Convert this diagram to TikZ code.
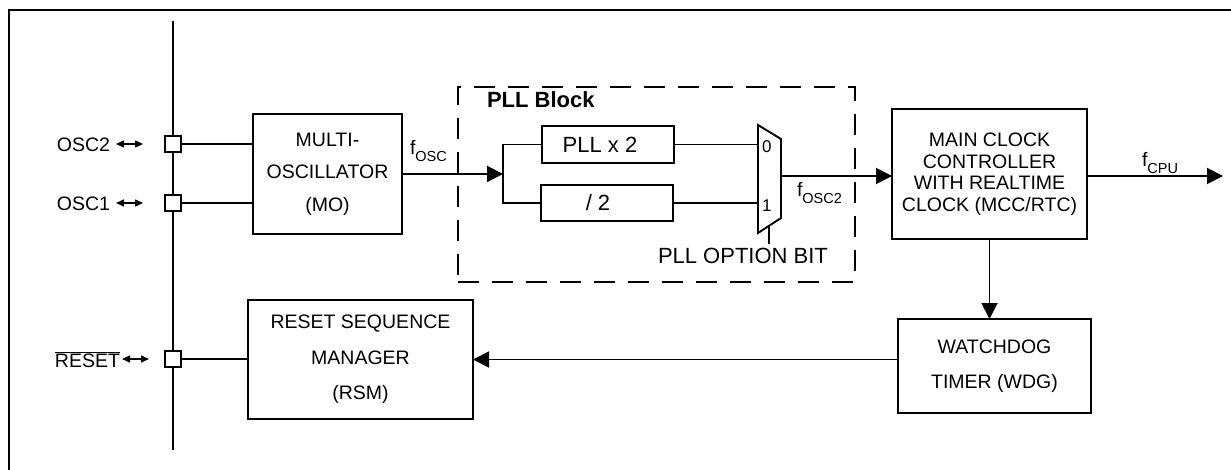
\documentclass[tikz,border=0pt]{standalone}
\usepackage{fontspec}
\setmainfont{Liberation Sans}
\usetikzlibrary{arrows.meta}
\newcommand{\subtxt}[1]{\raisebox{-0.32em}{\fontsize{14.5}{15}\selectfont #1}}
\begin{document}
\begin{tikzpicture}[x=1pt,y=-1pt,
  every node/.style={inner sep=0pt, outer sep=0pt},
  txt/.style={font=\fontsize{19.5}{21}\selectfont},
  box/.style={draw, line width=2pt, align=center},
  pin/.style={draw, fill=white, line width=1.8pt, minimum width=16pt, minimum height=16pt},
  wire/.style={line width=1.9pt},
  arr/.style={line width=1.9pt, -{Triangle[length=16pt,width=16pt]}},
  dbl/.style={line width=1.5pt, {Triangle[length=8pt,width=7pt]}-{Triangle[length=8pt,width=7pt]}},
  dashbox/.style={draw, line width=2pt, dash pattern=on 21pt off 13pt}
]
\useasboundingbox (0,0) rectangle (1231,470);
% frame
\draw[line width=2.2pt] (9,475) -- (9,10) -- (1236,10);

% bus
\coordinate (bt) at (173,21);
\coordinate (bb) at (173,450);
\draw[wire] (bt) -- (bb);

% boxes
\node[box, txt, font=\fontsize{19.5}{32.5}\selectfont, minimum width=149pt, minimum height=120pt] (MO) at (327.5,174) {MULTI-\\OSCILLATOR\\(MO)};
\node[box, txt, font=\fontsize{19.5}{35.5}\selectfont, minimum width=225pt, minimum height=119pt] (RSM) at (360.5,359.5) {RESET SEQUENCE\\MANAGER\\(RSM)};
\node[box, txt, font=\fontsize{19.5}{21.5}\selectfont, minimum width=195pt, minimum height=130pt] (MCC) at (989.5,174) {MAIN CLOCK\\CONTROLLER\\WITH REALTIME\\CLOCK (MCC/RTC)};
\node[box, txt, font=\fontsize{19.5}{35}\selectfont, minimum width=193pt, minimum height=94pt] (WDG) at (994.5,366) {WATCHDOG\\TIMER (WDG)};

% PLL block
\node[dashbox, minimum width=397pt, minimum height=195pt] (PLLB) at (656.5,184.5) {};
\node[anchor=base west, font=\fontsize{22}{24}\selectfont\bfseries] (PLLT) at (487,108) {PLL Block};
\node[box, font=\fontsize{22}{24}\selectfont, minimum width=132pt, minimum height=37pt] (PLL) at (608,144.5) {PLL x 2\hspace*{16pt}};
\node[box, font=\fontsize{22}{24}\selectfont, minimum width=132pt, minimum height=36pt] (DIV) at (607,203) {/ 2\hspace*{18pt}};

% mux
\coordinate (ma) at (758,125);
\coordinate (mb) at (781,139);
\coordinate (mc) at (781,218);
\coordinate (md) at (758,233);
\coordinate (m0) at (758,147);
\coordinate (m1) at (758,203);
\coordinate (mo) at (781,176);
\coordinate (ms) at (769,226);
\coordinate (msb) at (769,244);
\draw[wire, line join=miter] (ma) -- (mb) -- (mc) -- (md) -- cycle;
\node[anchor=base west, font=\fontsize{17}{18}\selectfont] (n0) at (762,153) {0};
\node[anchor=base west, font=\fontsize{17}{18}\selectfont] (n1) at (762,212) {1};
\draw[wire] (ms) -- (msb);
\node[anchor=base west, font=\fontsize{22}{24}\selectfont] (opt) at (658,264) {PLL OPTION BIT};

% pins
\node[pin] (p2) at (173,144) {};
\node[pin] (p1) at (173,203) {};
\node[pin] (pr) at (173,359) {};
\node[txt, anchor=base east] (l2) at (110,152) {OSC2};
\node[txt, anchor=base east] (l1) at (110,211) {OSC1};
\node[txt, anchor=base east] (lr) at (120,367) {$\overline{\mbox{RESET}}$};
\coordinate (a2l) at (116,144); \coordinate (a2r) at (143,144);
\coordinate (a1l) at (116,203); \coordinate (a1r) at (143,203);
\coordinate (arl) at (122,359); \coordinate (arr) at (149,359);
\draw[dbl] (a2l) -- (a2r);
\draw[dbl] (a1l) -- (a1r);
\draw[dbl] (arl) -- (arr);

% connections
\draw[wire] (p2.east) -- (p2.east -| MO.west);
\draw[wire] (p1.east) -- (p1.east -| MO.west);
\draw[wire] (pr.east) -- (pr.east -| RSM.west);

\coordinate (split) at (503,174);
\draw[arr] (MO.east) -- (split);
\draw[wire] (PLL.west) -| (split) |- (DIV.west);
\node[txt, anchor=base west] (fosc) at (410,155) {f\subtxt{OSC}};

\draw[wire] (PLL.east) -- (PLL.east -| m0);
\draw[wire] (DIV.east) -- (DIV.east -| m1);

\draw[arr] (mo) -- (mo -| MCC.west);
\node[txt, anchor=base west] (fosc2) at (797,197) {f\subtxt{OSC2}};

\coordinate (cpu) at (1223,176);
\draw[arr] (MCC.east |- cpu) -- (cpu);
\node[txt, anchor=base west] (fcpu) at (1142,167) {f\subtxt{CPU}};

\draw[arr] (MCC.south) -- (MCC.south |- WDG.north);
\draw[arr] (RSM.east -| WDG.west) -- (RSM.east);
\end{tikzpicture}
\end{document}
